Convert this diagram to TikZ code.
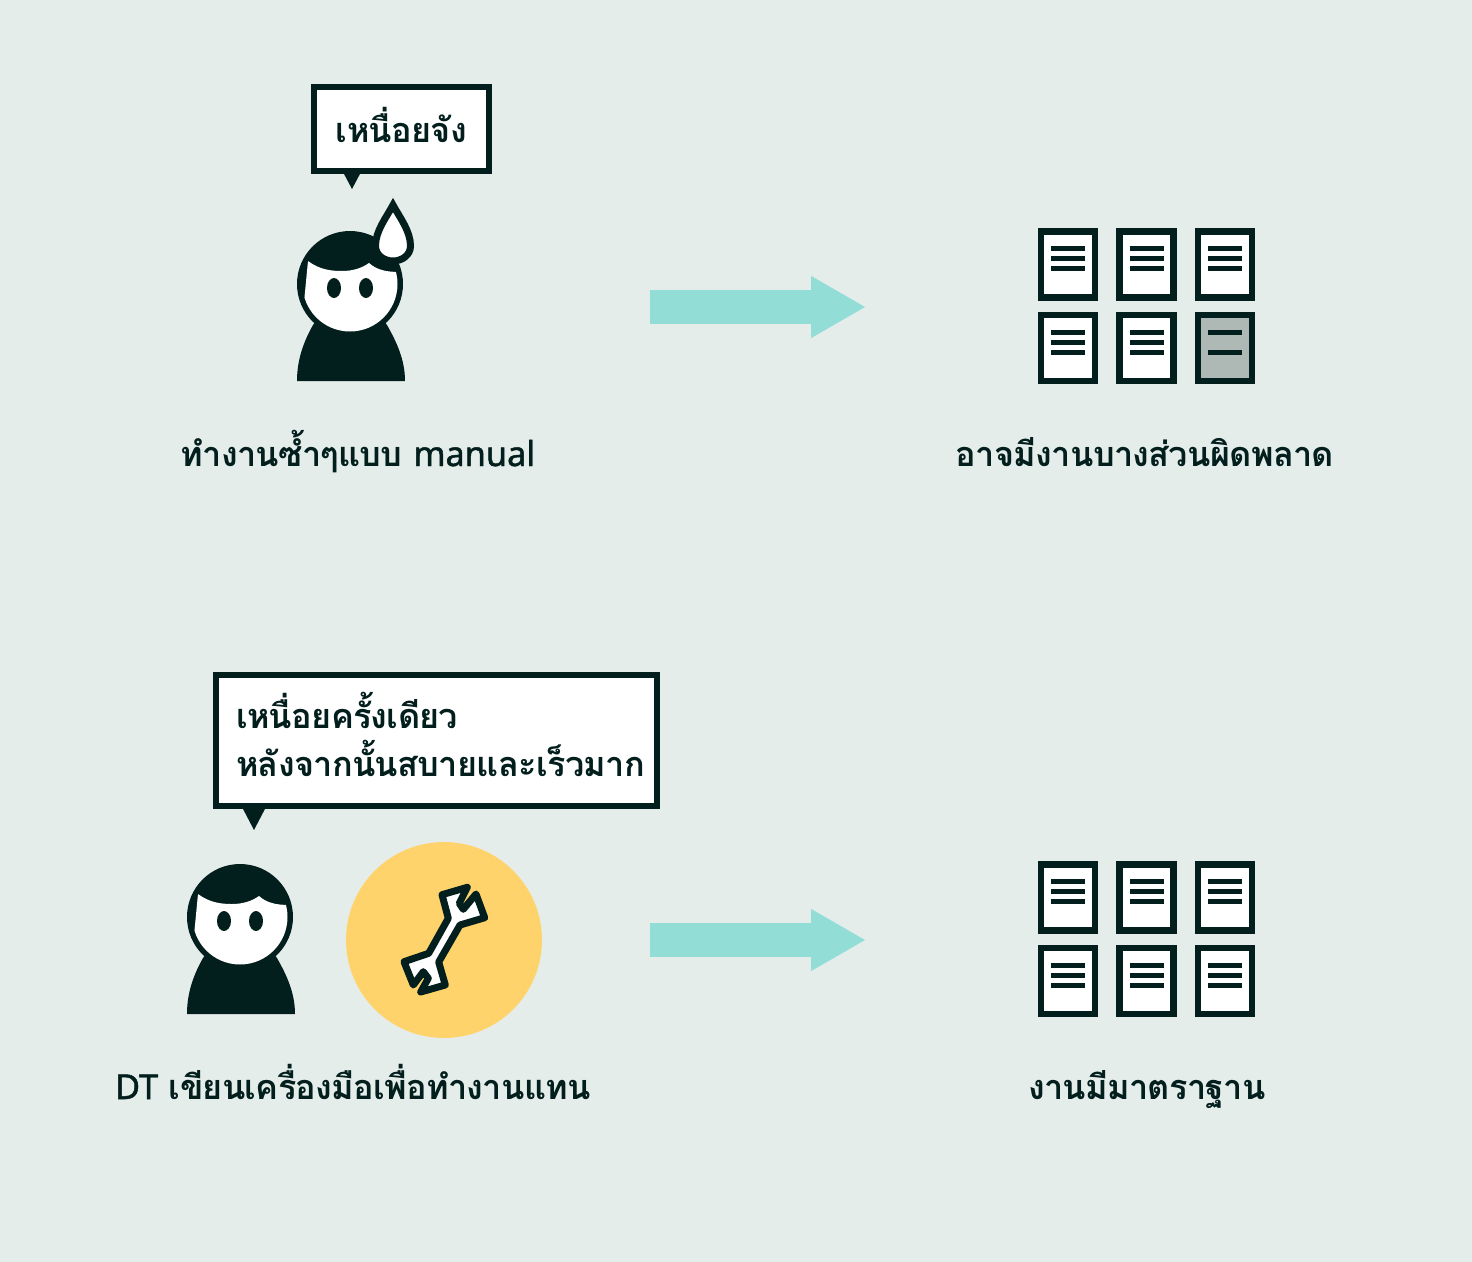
\documentclass[tikz,border=0pt]{standalone}
\usepackage{fontspec}
\setmainfont[Script=Thai,LetterSpace=-2]{Loma}
\newfontfamily\latinfont[FakeBold=1.4]{Noto Sans}
\usetikzlibrary{arrows.meta}
\definecolor{ink}{HTML}{031F1D}
\definecolor{paper}{HTML}{E5EDEB}
\definecolor{flowcolor}{HTML}{92DDD5}
\definecolor{toolcolor}{HTML}{FFD36B}
\definecolor{wrongcolor}{HTML}{AEB9B6}
\tikzset{
  caption/.style={font=\fontsize{19.5}{26}\selectfont\bfseries, text=ink, inner sep=0pt, anchor=base},
  bubble/.style={draw=ink, fill=white, line width=0.13cm, font=\fontsize{19.5}{26}\selectfont\bfseries, text=ink, inner sep=0pt, outer sep=0pt},
  flow/.style={flowcolor, line width=0.68cm, -{Triangle[length=1.1cm,width=1.16cm]}},
  worker/.pic={
    % body, then head
    \fill[ink] (-53,97) .. controls (-53,75) and (-46,57) .. (-37,41) -- (-20,20) -- (20,20) -- (37,41) .. controls (46,57) and (55,75) .. (55,97) -- cycle;
    \fill[ink] (0,0) circle (53);
    \begin{scope}
      \clip (0,0) circle (47.5);
      \fill[white] (-42,-23) .. controls (-30,-14) and (-18,-13) .. (-8,-13) .. controls (3,-13) and (12,-16) .. (19,-21) .. controls (27,-14) and (36,-12) .. (50,-12) -- (50,60) -- (-50,60) -- cycle;
    \end{scope}
    \fill[ink] (-16,4) ellipse [x radius=7, y radius=10];
    \fill[ink] (16,4) ellipse [x radius=7, y radius=10];
  },
  page/.pic={
    \filldraw[draw=ink, fill=white, line width=0.134cm] (-27,-33) rectangle (27,33);
    \foreach \y in {-15.7,-5.7,4.3}
      \fill[ink] (-17,\y-2.5) rectangle (17,\y+2.5);
  },
  wrongpage/.pic={
    \filldraw[draw=ink, fill=wrongcolor, line width=0.134cm] (-27,-33) rectangle (27,33);
    \foreach \y in {-15.7,4.3}
      \fill[ink] (-17,\y-2.5) rectangle (17,\y+2.5);
  }
}
\begin{document}
\begin{tikzpicture}[x=0.02cm, y=-0.02cm]
  \fill[paper] (0,0) rectangle (1472,1262);
  \useasboundingbox (0,0) rectangle (1472,1262);
  % The manual row
  \pic at (350,284) {worker};
  \filldraw[draw=ink, fill=white, line width=0.14cm, miter limit=10] (393,205) .. controls (386,218) and (375.5,231) .. (375.5,246) .. controls (375.5,255) and (384,261) .. (393,261) .. controls (402,261) and (410.5,255) .. (410.5,246) .. controls (410.5,231) and (400,218) .. (393,205) -- cycle;
  \node[bubble, minimum width=3.5cm, minimum height=1.68cm] (bubbleTired) at (401.5,129) {\raisebox{4.6pt}{เหนื่อยจัง}};
  \fill[ink] (343,172) -- (361,172) -- (352,189) -- cycle;
  \node[caption] (captionManual) at (358,466) {ทำงานซ้ำๆแบบ {\latinfont manual}};
  \coordinate (flowStartA) at (650,307);
  \coordinate (flowEndA) at (866,307);
  \draw[flow] (flowStartA) -- (flowEndA);
  \foreach \x in {1068,1146.5,1225}
    \pic at (\x,264.4) {page};
  \foreach \x in {1068,1146.5}
    \pic at (\x,348.1) {page};
  \pic at (1225,348.1) {wrongpage};
  \node[caption] (captionWrong) at (1145,466) {อาจมีงานบางส่วนผิดพลาด};
  % The tool row
  \pic at (240,917) {worker};
  \renewcommand{\arraystretch}{0.88}
  \node[bubble, minimum width=8.82cm, minimum height=2.62cm, text width=8.02cm, align=left] (bubbleOnce) at (436.5,740.5) {\raisebox{-0.3pt}{\begin{tabular}[c]{@{}l@{}}เหนื่อยครั้งเดียว\\หลังจากนั้นสบายและเร็วมาก\end{tabular}}};
  \fill[ink] (242,807) -- (266,807) -- (254,830) -- cycle;
  \node[circle, fill=toolcolor, minimum size=3.92cm, inner sep=0pt] (toolCircle) at (444,940) {};
  \filldraw[draw=ink, fill=white, line width=0.14cm, line join=round] (442,894.7) -- (467.3,887.3) -- (459.3,903.3) -- (463.3,909.3) -- (476,894) -- (484.7,917.7) -- (460,925) -- (438.7,962) -- (445.3,985) -- (420.7,992) -- (428.3,978.3) -- (423.3,971.7) -- (413.3,985) -- (404,961.7) -- (428.7,953.3) -- (448.3,918.3) -- cycle;
  \node[caption] (captionTool) at (353,1099) {{\latinfont DT} เขียนเครื่องมือเพื่อทำงานแทน};
  \coordinate (flowStartB) at (650,940);
  \coordinate (flowEndB) at (866,940);
  \draw[flow] (flowStartB) -- (flowEndB);
  \foreach \x in {1068,1146.5,1225}
    \foreach \y in {897.4,981.1}
      \pic at (\x,\y) {page};
  \node[caption] (captionStandard) at (1147,1099) {งานมีมาตราฐาน};
\end{tikzpicture}
\end{document}
